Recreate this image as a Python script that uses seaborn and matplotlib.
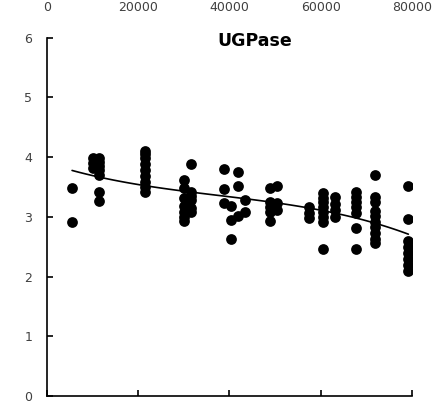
import numpy as np
import pandas as pd
import matplotlib
matplotlib.use("Agg")
import matplotlib.pyplot as plt
import seaborn as sns

# Data (x position, UGPase values at that position)
x_positions = [5500, 10000, 11300, 21500, 30000, 31600, 38800, 40300, 41800,
               43400, 48900, 50400, 57500, 60500, 63100, 67700, 72000, 79200]
ugpase_values = [
    [3.48, 2.92],
    [3.98, 3.90, 3.82],
    [3.98, 3.92, 3.85, 3.78, 3.70, 3.41, 3.26],
    [4.10, 4.05, 3.98, 3.88, 3.78, 3.68, 3.58, 3.50, 3.42],
    [3.62, 3.48, 3.31, 3.18, 3.09, 3.00, 2.93],
    [3.88, 3.42, 3.35, 3.28, 3.15, 3.08],
    [3.81, 3.47, 3.23],
    [3.18, 2.95, 2.63],
    [3.76, 3.52, 3.02],
    [3.28, 3.09],
    [3.48, 3.25, 3.17, 3.09, 2.93],
    [3.52, 3.23, 3.12],
    [3.16, 3.06, 2.98],
    [3.40, 3.32, 3.25, 3.17, 3.09, 3.00, 2.92, 2.46],
    [3.33, 3.22, 3.12, 3.00],
    [3.41, 3.33, 3.25, 3.16, 3.07, 2.81, 2.47],
    [3.70, 3.33, 3.25, 3.10, 3.02, 2.92, 2.83, 2.73, 2.63, 2.57],
    [3.52, 2.97, 2.60, 2.50, 2.40, 2.30, 2.20, 2.10],
]
x_ticks = [0, 20000, 40000, 60000, 80000]
y_ticks = [0, 1, 2, 3, 4, 5, 6]
title = "UGPase"

rows = [(x, v) for x, vals in zip(x_positions, ugpase_values) for v in vals]
df = pd.DataFrame(rows, columns=["x", "y"])

sns.set_theme(style="white")
plt.rcParams["font.family"] = ["DejaVu Sans"]

fig = plt.figure(figsize=(4.33, 4.03), dpi=100)
ax = fig.add_axes([0.1085, 0.0174, 0.843, 0.8888])

sns.scatterplot(data=df, x="x", y="y", ax=ax, color="black", s=60,
                edgecolor="black", linewidth=0, legend=False)
sns.regplot(data=df, x="x", y="y", ax=ax, order=3, ci=None, scatter=False,
            truncate=True, line_kws=dict(color="black", lw=1.2))

ax.set_xlim(0, 80000)
ax.set_ylim(0, 6)
ax.set_xticks(x_ticks)
ax.set_xticklabels([str(t) for t in x_ticks])
ax.set_yticks(y_ticks)
ax.set_yticklabels([str(t) for t in y_ticks])
ax.set_xlabel("")
ax.set_ylabel("")

for s in ["top", "right"]:
    ax.spines[s].set_visible(False)
for s in ["left", "bottom"]:
    ax.spines[s].set_color("black")
    ax.spines[s].set_linewidth(1.2)

ax.tick_params(axis="x", direction="in", length=4, width=1.2, color="black",
               bottom=True, top=False, labelbottom=False, labeltop=True,
               pad=17, labelsize=9, labelcolor="#404040")
ax.tick_params(axis="y", direction="in", length=4, width=1.2, color="black",
               left=True, pad=10.5, labelsize=9, labelcolor="#404040")

ax.text(0.57, 0.992, title, transform=ax.transAxes, ha="center", va="center",
        fontsize=12.5, fontweight="bold", color="black")

fig.savefig("out.png", dpi=100)
